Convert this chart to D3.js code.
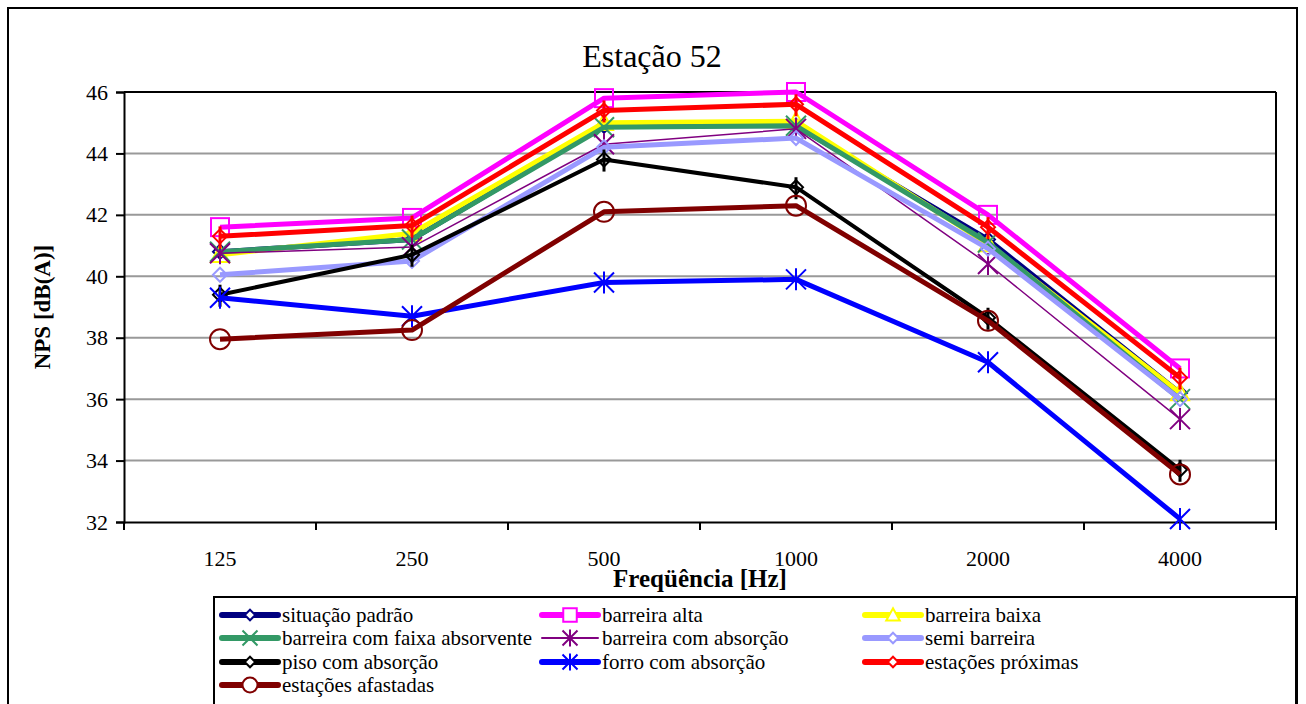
<!DOCTYPE html>
<html><head><meta charset="utf-8">
<script src="https://cdn.jsdelivr.net/npm/d3@7"></script>
<style>body{margin:0;background:#fff}svg{display:block}</style>
</head><body>
<svg id="c" width="1306" height="704"></svg>
<script>
const categories = ["125","250","500","1000","2000","4000"];
const yTicks = [32,34,36,38,40,42,44,46];
const situacaoPadrao   = [40.8, 41.2, 44.9, 44.9, 41.2, 36.2];
const barreiraAlta     = [41.6, 41.9, 45.8, 46.0, 42.0, 37.0];
const barreiraBaixa    = [40.7, 41.4, 45.0, 45.05, 41.05, 36.2];
const barreiraFaixa    = [40.8, 41.2, 44.85, 44.9, 41.1, 36.0];
const barreiraAbsorcao = [40.75, 40.95, 44.3, 44.8, 40.4, 35.35];
const semiBarreira     = [40.05, 40.5, 44.2, 44.5, 40.9, 36.0];
const pisoAbsorcao     = [39.4, 40.7, 43.8, 42.9, 38.65, 33.7];
const forroAbsorcao    = [39.3, 38.7, 39.8, 39.9, 37.2, 32.1];
const estacoesProximas = [41.3, 41.65, 45.4, 45.6, 41.6, 36.7];
const estacoesAfastadas= [37.95, 38.25, 42.1, 42.3, 38.55, 33.55];

const series = [
  {name:"situação padrão", values:situacaoPadrao, color:"#000080", w:5, marker:"diamond"},
  {name:"barreira alta", values:barreiraAlta, color:"#FF00FF", w:5, marker:"square"},
  {name:"barreira baixa", values:barreiraBaixa, color:"#FFFF00", w:5, marker:"triangle"},
  {name:"barreira com faixa absorvente", values:barreiraFaixa, color:"#339966", w:5, marker:"x"},
  {name:"barreira com absorção", values:barreiraAbsorcao, color:"#800080", w:1.5, marker:"star"},
  {name:"semi barreira", values:semiBarreira, color:"#9999FF", w:5, marker:"diamond"},
  {name:"piso com absorção", values:pisoAbsorcao, color:"#000000", w:4, marker:"diamond", stem:true},
  {name:"forro com absorção", values:forroAbsorcao, color:"#0000FF", w:5, marker:"star"},
  {name:"estações próximas", values:estacoesProximas, color:"#FF0000", w:5, marker:"diamond", stem:true},
  {name:"estações afastadas", values:estacoesAfastadas, color:"#800000", w:5, marker:"circle"}
];

const svg = d3.select("#c");
const font = "'Liberation Serif','Times New Roman',serif";
const L=124, R=1276, T=92, B=522;
const x = d3.scaleBand().domain(categories).range([L,R]);
const y = d3.scaleLinear().domain([32,46]).range([B,T]);

svg.append("rect").attr("x",8).attr("y",8).attr("width",1289).attr("height",720)
  .attr("fill","none").attr("stroke","#000").attr("stroke-width",2);

svg.append("text").attr("x",652).attr("y",67).attr("text-anchor","middle")
  .attr("font-family",font).attr("font-size",32).text("Estação 52");

svg.append("g").selectAll("line").data(yTicks.filter(t=>t>32&&t<46)).join("line")
  .attr("x1",L).attr("x2",R).attr("y1",d=>y(d)).attr("y2",d=>y(d))
  .attr("stroke","#999").attr("stroke-width",2);
svg.append("line").attr("x1",L).attr("x2",R).attr("y1",T).attr("y2",T).attr("stroke","#000").attr("stroke-width",2);
svg.append("line").attr("x1",R).attr("x2",R).attr("y1",T).attr("y2",B).attr("stroke","#000").attr("stroke-width",2);

const yAxis = svg.append("g").attr("transform",`translate(${L},0)`)
  .call(d3.axisLeft(y).tickValues(yTicks).tickSize(8).tickPadding(8));
yAxis.select(".domain").attr("stroke","#000").attr("stroke-width",2);
yAxis.selectAll(".tick line").attr("stroke","#000").attr("stroke-width",2);
yAxis.selectAll("text").attr("font-family",font).attr("font-size",22).attr("fill","#000");

const xAxis = svg.append("g").attr("transform",`translate(0,${B})`)
  .call(d3.axisBottom(x).tickSize(0).tickPadding(28));
xAxis.select(".domain").attr("stroke","#000").attr("stroke-width",2);
xAxis.selectAll("text").attr("font-family",font).attr("font-size",22).attr("fill","#000");
const bounds = categories.map(c=>x(c)).concat([R]);
svg.append("g").selectAll("line").data(bounds).join("line")
  .attr("x1",d=>d).attr("x2",d=>d).attr("y1",B).attr("y2",B+8)
  .attr("stroke","#000").attr("stroke-width",2);

svg.append("text").attr("transform",`translate(50,${(T+B)/2}) rotate(-90)`)
  .attr("text-anchor","middle").attr("font-family",font).attr("font-weight","bold")
  .attr("font-size",23).text("NPS [dB(A)]");
svg.append("text").attr("x",700).attr("y",587).attr("text-anchor","middle")
  .attr("font-family",font).attr("font-weight","bold").attr("font-size",25).text("Freqüência [Hz]");

function drawMarker(g, type, cx, cy, color, stem, k, fill){
  k = k || 1;
  const s = g.append("g").attr("fill",fill||"none").attr("stroke",color).attr("stroke-width",2);
  if(type==="diamond"){
    const h=7*k;
    s.append("path").attr("d",`M${cx},${cy-h}L${cx+h},${cy}L${cx},${cy+h}L${cx-h},${cy}Z`);
  } else if(type==="square"){
    const h=9*k;
    s.append("rect").attr("x",cx-h).attr("y",cy-h).attr("width",2*h).attr("height",2*h);
  } else if(type==="triangle"){
    const h=9*k;
    s.append("path").attr("d",`M${cx},${cy-h}L${cx+h},${cy+h*0.8}L${cx-h},${cy+h*0.8}Z`);
  } else if(type==="x" || type==="star"){
    const h=10*k;
    s.append("path").attr("d",`M${cx-h},${cy-h}L${cx+h},${cy+h}M${cx-h},${cy+h}L${cx+h},${cy-h}`);
    if(type==="star") s.append("path").attr("d",`M${cx},${cy-h-1}L${cx},${cy+h+1}`);
  } else if(type==="circle"){
    s.append("circle").attr("cx",cx).attr("cy",cy).attr("r",10*k);
  }
  if(stem){
    g.append("line").attr("x1",cx).attr("x2",cx).attr("y1",cy-10).attr("y2",cy+12)
      .attr("stroke",color).attr("stroke-width",3);
  }
}

const line = d3.line().x((d,i)=>x(categories[i])+x.bandwidth()/2).y(d=>y(d));
const plot = svg.append("g");
series.forEach(s=>{
  const g = plot.append("g");
  g.append("path").attr("d",line(s.values)).attr("fill","none")
    .attr("stroke",s.color).attr("stroke-width",s.w).attr("stroke-linejoin","round");
  s.values.forEach((v,i)=>drawMarker(g, s.marker, x(categories[i])+x.bandwidth()/2, y(v), s.color, s.stem));
});

const lg = svg.append("g");
lg.append("rect").attr("x",214).attr("y",597).attr("width",1082).attr("height",140)
  .attr("fill","#fff").attr("stroke","#000").attr("stroke-width",2);
const colX = [222, 542, 865];
const rowY = [615, 638, 662, 685];
series.forEach((s,i)=>{
  const cx = colX[i%3], cy = rowY[Math.floor(i/3)];
  const g = lg.append("g");
  g.append("line").attr("x1",cx).attr("x2",cx+56).attr("y1",cy).attr("y2",cy)
    .attr("stroke",s.color).attr("stroke-width",s.w===1.5?2:6).attr("stroke-linecap","round");
  drawMarker(g, s.marker, cx+28, cy, s.color, false, 0.75, "#fff");
  g.append("text").attr("x",cx+60).attr("y",cy+7).attr("font-family",font)
    .attr("font-size",21).text(s.name);
});
</script>
</body></html>
